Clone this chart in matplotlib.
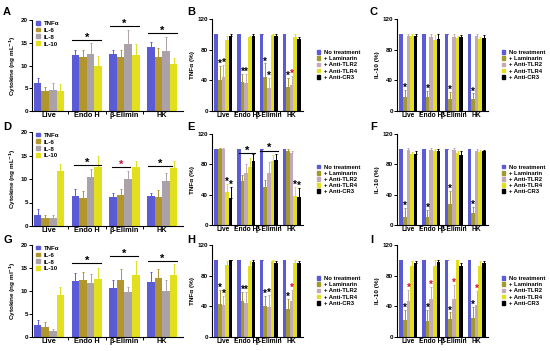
import numpy as np
import matplotlib
matplotlib.use("Agg")
import matplotlib.pyplot as plt
from matplotlib.patches import Patch

plt.rcParams['font.family'] = ['Liberation Sans', 'DejaVu Sans']
plt.rcParams['font.weight'] = 'bold'

W, H = 550, 351

groups = ["Live", "Endo H", "β-Elimin", "HK"]
cyto_names = ["TNFα", "IL-6", "IL-8", "IL-10"]
treat_names = ["No treatment", "+ Laminarin", "+ Anti-TLR2", "+ Anti-TLR4", "+ Anti-CR3"]

cyto_colors = ["#5b5bd6", "#b0962c", "#aaa2a8", "#e2e01e"]
treat_colors = ["#5b5bd6", "#a39a2e", "#c4aab8", "#e2e01e", "#000000"]

# cytokine panels: rows = group, cols = TNFa, IL-6, IL-8, IL-10
A_val = [[6.2, 4.3, 4.7, 4.3], [12.2, 11.8, 12.5, 10.0], [12.5, 11.8, 14.7, 12.2], [14.1, 11.8, 13.1, 10.3]]
A_err = [[1.1, 0.9, 1.5, 1.7], [1.1, 1.5, 2.4, 2.0], [1.0, 1.6, 3.2, 2.5], [1.1, 2.0, 3.2, 1.4]]
A_sig = [(1, -0.38, 0.38, 15.6, "k"), (2, -0.38, 0.38, 18.7, "k"), (3, -0.38, 0.38, 17.1, "k")]

D_val = [[2.3, 1.7, 1.7, 11.6], [6.4, 6.0, 10.5, 12.6], [6.1, 6.6, 10.1, 12.5], [6.4, 6.2, 9.5, 12.3]]
D_err = [[1.3, 0.6, 0.6, 1.6], [1.4, 1.4, 1.6, 2.2], [1.0, 1.3, 1.7, 1.4], [0.6, 1.4, 1.7, 1.5]]
D_sig = [(1, -0.34, 0.39, 13.0, "k"), (2, -0.34, 0.15, 12.5, "#d0103a"), (3, -0.39, 0.26, 12.7, "k")]

G_val = [[2.6, 2.1, 1.3, 9.2], [12.2, 12.5, 11.7, 12.7], [10.7, 12.4, 9.7, 13.4], [12.0, 12.8, 10.0, 13.5]]
G_err = [[1.0, 1.2, 0.5, 1.6], [1.8, 1.6, 2.0, 2.4], [1.6, 2.4, 1.1, 3.2], [2.2, 1.9, 2.5, 2.3]]
G_sig = [(1, -0.38, 0.38, 16.0, "k"), (2, -0.38, 0.36, 17.6, "k"), (3, -0.38, 0.38, 16.5, "k")]

# percent panels: rows = group, cols = treatments
B_val = [[100, 41, 44, 93, 98], [100, 38, 36, 96, 98], [100, 45, 30, 99, 98], [100, 31, 34, 97, 94]]
B_err = [[0, 18, 16, 5, 2], [0, 10, 12, 2, 2], [0, 17, 13, 1, 2], [0, 12, 12, 3, 3]]
B_star = [(0, 1, "k"), (0, 2, "k"), (1, 1, "k"), (1, 2, "k"), (2, 1, "k"), (2, 2, "k"), (3, 1, "k"), (3, 2, "#d0103a")]

C_val = [[100, 18, 98, 98, 98], [100, 18, 97, 93, 94], [100, 16, 97, 95, 96], [100, 16, 98, 94, 95]]
C_err = [[0, 10, 2, 2, 2], [0, 8, 3, 6, 6], [0, 9, 3, 3, 3], [0, 7, 2, 3, 4]]
C_star = [(0, 1, "k"), (1, 1, "k"), (2, 1, "k"), (3, 1, "k")]

E_val = [[100, 100, 100, 44, 36], [100, 58, 68, 76, 84], [100, 50, 69, 84, 86], [100, 98, 95, 38, 37]]
E_err = [[0, 2, 2, 10, 14], [0, 8, 12, 12, 9], [0, 9, 14, 8, 7], [0, 2, 2, 12, 12]]
E_star = [(0, 3, "k"), (0, 4, "k"), (3, 3, "k"), (3, 4, "k")]
E_sig = [(1, -0.3, 0.4, 95, "k"), (2, -0.4, 0.4, 98, "k")]

F_val = [[100, 11, 99, 93, 94], [100, 11, 99, 98, 98], [100, 28, 99, 95, 92], [100, 16, 98, 96, 97]]
F_err = [[0, 12, 2, 3, 3], [0, 9, 2, 2, 2], [0, 17, 2, 3, 5], [0, 8, 2, 3, 2]]
F_star = [(0, 1, "k"), (1, 1, "k"), (2, 1, "k"), (3, 1, "k")]

H_val = [[100, 43, 42, 94, 100], [100, 47, 44, 93, 98], [100, 40, 39, 99, 97], [100, 36, 47, 96, 97]]
H_err = [[0, 18, 12, 5, 1], [0, 12, 15, 6, 2], [0, 14, 16, 2, 2], [0, 14, 14, 4, 2]]
H_star = [(0, 1, "k"), (0, 2, "k"), (1, 1, "k"), (1, 2, "k"), (2, 1, "k"), (2, 2, "k"), (3, 1, "k"), (3, 2, "#d0103a")]

I_val = [[100, 22, 47, 93, 96], [100, 21, 49, 93, 98], [100, 23, 50, 100, 93], [100, 25, 42, 92, 96]]
I_err = [[0, 13, 14, 6, 3], [0, 14, 16, 7, 2], [0, 9, 18, 1, 4], [0, 14, 18, 7, 3]]
I_star = [(0, 1, "k"), (0, 2, "#d0103a"), (1, 1, "k"), (1, 2, "#d0103a"), (2, 1, "k"), (2, 2, "#d0103a"), (3, 1, "k"), (3, 2, "#d0103a")]


def ax_at(fig, l, t, r, b):
    return fig.add_axes([l / W, 1 - b / H, (r - l) / W, (b - t) / H])


def style(ax, xfs):
    for s in ["top", "right"]:
        ax.spines[s].set_visible(False)
    ax.spines["left"].set_linewidth(0.8)
    ax.spines["bottom"].set_linewidth(0.8)
    ax.tick_params(axis="y", labelsize=4.5, length=2, width=0.7, pad=1)
    ax.set_xticks([0.5, 1.5, 2.5])
    ax.set_xticks(range(4), minor=True)
    ax.set_xticklabels([])
    ax.set_xticklabels(groups, minor=True, fontsize=xfs, fontweight="bold")
    ax.tick_params(axis="x", which="major", length=2.5, width=0.7)
    ax.tick_params(axis="x", which="minor", length=0, pad=1)


def bars(ax, val, err, colors, width):
    val = np.array(val)
    err = np.array(err)
    n = val.shape[1]
    x = np.arange(4)
    off = (np.arange(n) - (n - 1) / 2) * width
    for j in range(n):
        ax.bar(x + off[j], val[:, j], width, color=colors[j], zorder=2)
        e = err[:, j]
        ax.errorbar(x + off[j], val[:, j], yerr=[np.zeros(4), e], fmt="none",
                    ecolor=colors[j], elinewidth=0.7, capsize=1.0, capthick=0.7, zorder=1)
    return off


def cyto_panel(ax, val, err, sig, ylabel):
    bars(ax, val, err, cyto_colors, 0.2)
    ax.set_xlim(-0.45, 3.55)
    ax.set_ylim(0, 20)
    ax.set_yticks([0, 5, 10, 15, 20])
    style(ax, 5.3)
    ax.set_ylabel(ylabel, fontsize=4.6, fontweight="bold", labelpad=2)
    for g, x0, x1, y, c in sig:
        ax.plot([g + x0, g + x1], [y, y], color="k", lw=0.8)
        ax.text(g + (x0 + x1) / 2, y - 0.6, "*", ha="center", va="bottom", fontsize=8, color=c)
    handles = [Patch(color=c) for c in cyto_colors]
    ax.legend(handles, cyto_names, loc="upper left", bbox_to_anchor=(0.01, 1.02), frameon=False,
              fontsize=4.4, handlelength=0.6, handleheight=0.6, handletextpad=0.7, labelspacing=0.3,
              borderaxespad=0.2, borderpad=0.2)


def pct_panel(ax, val, err, stars, ylabel, sig=()):
    off = bars(ax, val, err, treat_colors, 0.16)
    ax.set_xlim(-0.5, 3.5)
    ax.set_ylim(0, 120)
    ax.set_yticks([0, 40, 80, 120])
    style(ax, 4.8)
    ax.set_ylabel(ylabel, fontsize=4.6, fontweight="bold", labelpad=2)
    for g, j, c in stars:
        y = val[g][j] + err[g][j] - 4
        ax.text(g + off[j], y, "*", ha="center", va="bottom", fontsize=7, color=c)
    for g, x0, x1, y, c in sig:
        ax.plot([g + x0, g + x1], [y, y], color="k", lw=0.8)
        ax.text(g + (x0 + x1) / 2, y - 3.5, "*", ha="center", va="bottom", fontsize=8, color=c)
    handles = [Patch(color=c) for c in treat_colors]
    ax.legend(handles, treat_names, loc="center left", bbox_to_anchor=(1.15, 0.5), frameon=False,
              fontsize=4.2, handlelength=0.6, handleheight=0.6, handletextpad=0.6, labelspacing=0.2,
              borderaxespad=0, borderpad=0)


fig = plt.figure(figsize=(5.5, 3.51), dpi=100)

axA = ax_at(fig, 32, 20, 183, 111)
axB = ax_at(fig, 212, 19, 303, 111)
axC = ax_at(fig, 397, 19, 488, 111)
axD = ax_at(fig, 32, 132, 183, 226)
axE = ax_at(fig, 212, 134, 303, 225)
axF = ax_at(fig, 397, 134, 488, 225)
axG = ax_at(fig, 32, 245, 183, 337)
axH = ax_at(fig, 212, 245, 303, 337)
axI = ax_at(fig, 397, 245, 488, 337)

cyto_panel(axA, A_val, A_err, A_sig, "Cytokine (ng mL$^{-1}$)")
cyto_panel(axD, D_val, D_err, D_sig, "Cytokine (ng mL$^{-1}$)")
cyto_panel(axG, G_val, G_err, G_sig, "Cytokine (ng ml$^{-1}$)")
pct_panel(axB, B_val, B_err, B_star, "TNFα (%)")
pct_panel(axC, C_val, C_err, C_star, "IL-10 (%)")
pct_panel(axE, E_val, E_err, E_star, "TNFα (%)", E_sig)
pct_panel(axF, F_val, F_err, F_star, "IL-10 (%)")
pct_panel(axH, H_val, H_err, H_star, "TNFα (%)")
pct_panel(axI, I_val, I_err, I_star, "IL-10 (%)")

letters = [("A", 3, 12), ("B", 187, 12), ("C", 370, 12), ("D", 3, 127), ("E", 187, 127),
           ("F", 370, 127), ("G", 3, 240), ("H", 187, 240), ("I", 370, 240)]
for s, x, y in letters:
    fig.text(x / W, 1 - y / H, s, fontsize=8, fontweight="bold", va="center", ha="left")

fig.savefig("out.png", dpi=100)
